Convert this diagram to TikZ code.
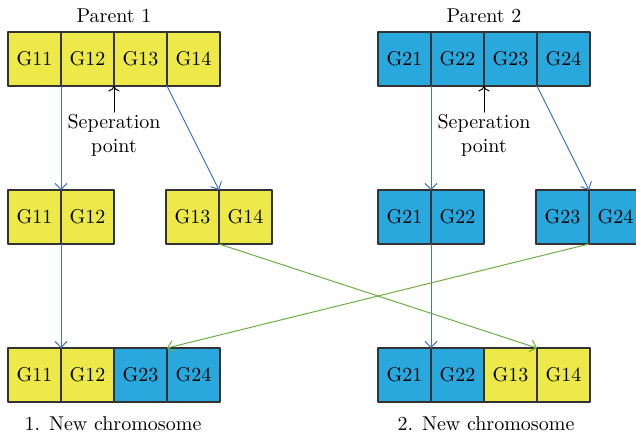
\documentclass[tikz,border=0pt]{standalone}
\usetikzlibrary{arrows.meta,positioning}

\definecolor{geneyellow}{RGB}{237,233,72}
\definecolor{geneblue}{RGB}{41,168,222}
\definecolor{linkblue}{RGB}{68,114,196}
\definecolor{linkgreen}{RGB}{112,173,71}

\tikzset{
  gene/.style={draw=black!80, line width=0.7pt, minimum width=26.5pt,
    minimum height=27pt, inner sep=0pt, outer sep=0pt},
  ygene/.style={gene, fill=geneyellow},
  bgene/.style={gene, fill=geneblue},
  cutline/.style={-{Straight Barb[length=3pt,width=6pt]}, line width=0.5pt, color=linkblue},
  swapline/.style={-{Straight Barb[length=3pt,width=6pt]}, line width=0.5pt, color=linkgreen},
  seplabel/.style={align=center, inner sep=1pt}
}

\begin{document}
\begin{tikzpicture}[x=0.5pt, y=-0.5pt, line cap=round, line join=round]
  \useasboundingbox (0,0) rectangle (636,436);

  % parents
  \node (par1) at (114,16) {Parent 1};
  \node[ygene] (pa1) at (34.5,59) {G11};
  \node[ygene, right=0pt of pa1] (pa2) {G12};
  \node[ygene, right=0pt of pa2] (pa3) {G13};
  \node[ygene, right=0pt of pa3] (pa4) {G14};

  \node (par2) at (484,16) {Parent 2};
  \node[bgene] (pb1) at (404.5,59) {G21};
  \node[bgene, right=0pt of pb1] (pb2) {G22};
  \node[bgene, right=0pt of pb2] (pb3) {G23};
  \node[bgene, right=0pt of pb3] (pb4) {G24};

  % separation points
  \node[seplabel, anchor=north] (sep1) at (114,112) {Seperation\\point};
  \node[seplabel, anchor=north] (sep2) at (484,112) {Seperation\\point};
  \draw[->, line width=0.5pt] (sep1.north) -- (pa3.south west);
  \draw[->, line width=0.5pt] (sep2.north) -- (pb3.south west);

  % split halves
  \node[ygene] (ma1) at (34.5,217) {G11};
  \node[ygene, right=0pt of ma1] (ma2) {G12};
  \node[ygene] (mb1) at (192.5,217) {G13};
  \node[ygene, right=0pt of mb1] (mb2) {G14};
  \node[bgene] (mc1) at (404.5,217) {G21};
  \node[bgene, right=0pt of mc1] (mc2) {G22};
  \node[bgene] (md1) at (562.5,217) {G23};
  \node[bgene, right=0pt of md1] (md2) {G24};

  % new chromosomes
  \node[ygene] (na1) at (34.5,375) {G11};
  \node[ygene, right=0pt of na1] (na2) {G12};
  \node[bgene, right=0pt of na2] (na3) {G23};
  \node[bgene, right=0pt of na3] (na4) {G24};
  \node (new1) at (113,424) {1. New chromosome};

  \node[bgene] (nb1) at (404.5,375) {G21};
  \node[bgene, right=0pt of nb1] (nb2) {G22};
  \node[ygene, right=0pt of nb2] (nb3) {G13};
  \node[ygene, right=0pt of nb3] (nb4) {G14};
  \node (new2) at (486,424) {2. New chromosome};

  % splitting
  \draw[cutline] (pa2.south west) -- (ma2.north west);
  \draw[cutline] (pa3.south east) -- (mb2.north west);
  \draw[cutline] (pb2.south west) -- (mc2.north west);
  \draw[cutline] (pb3.south east) -- (md2.north west);
  \draw[cutline] (ma2.south west) -- (na2.north west);
  \draw[cutline] (mc2.south west) -- (nb2.north west);

  % crossing over
  \draw[swapline] (mb2.south west) -- (nb4.north west);
  \draw[swapline] (md2.south west) -- (na4.north west);
\end{tikzpicture}
\end{document}
